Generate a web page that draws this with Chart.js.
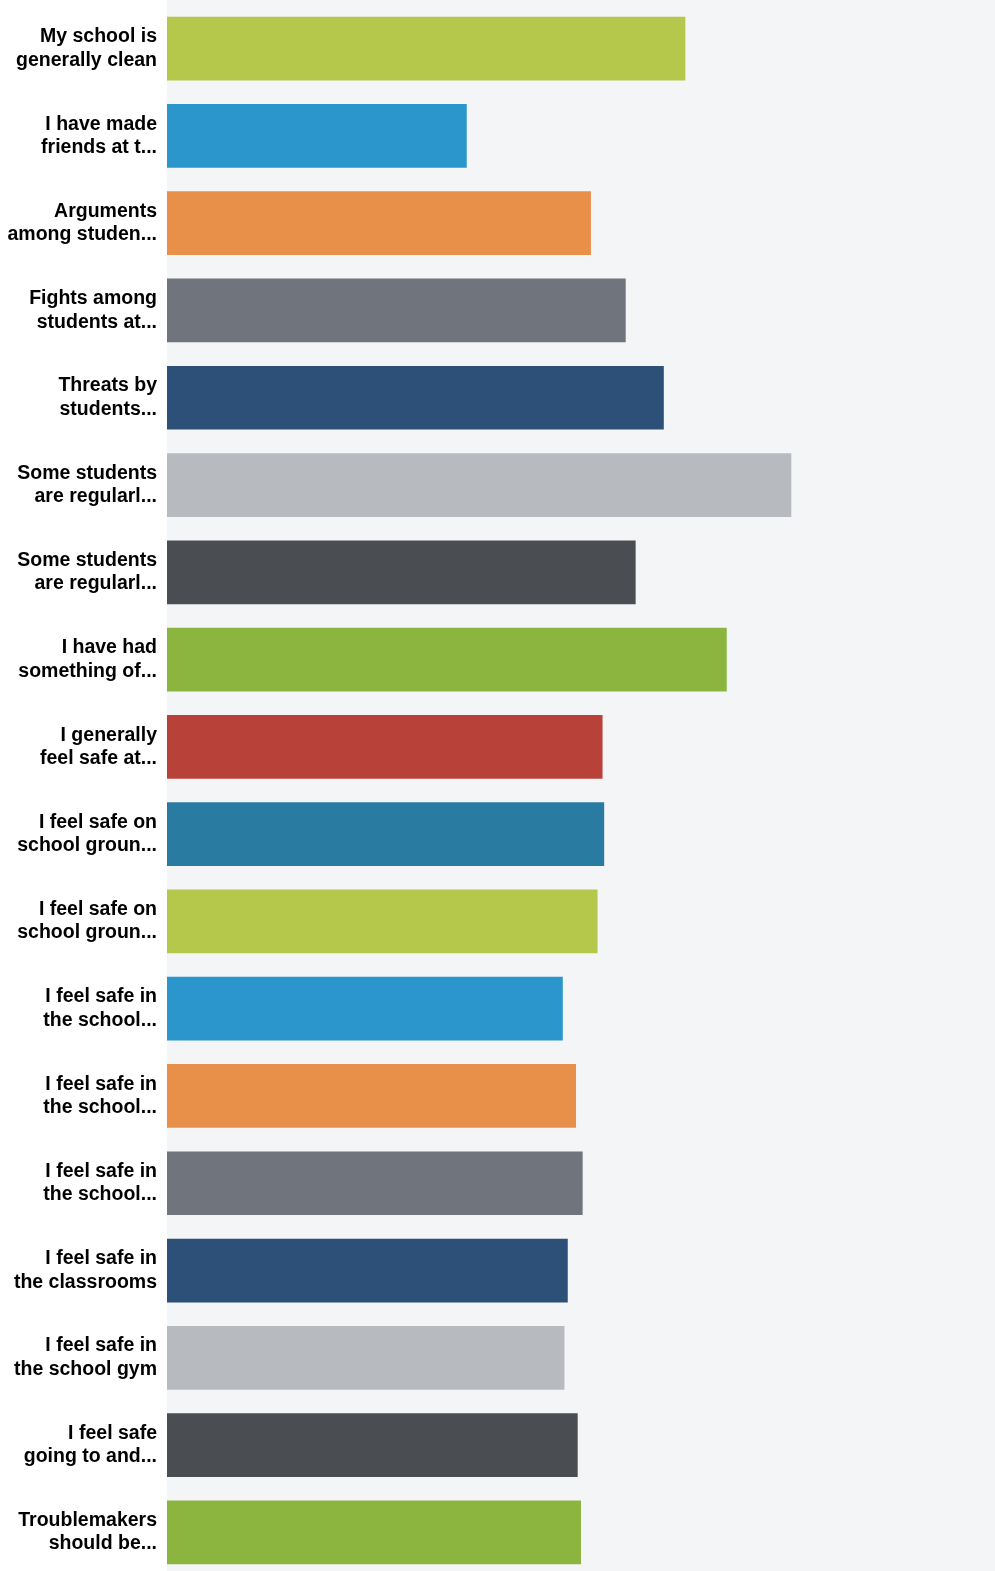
<!DOCTYPE html>
<html>
<head>
<meta charset="utf-8">
<title>School climate survey</title>
<script src="https://cdn.jsdelivr.net/npm/chart.js@4/dist/chart.umd.min.js"></script>
<style>
  html, body { margin: 0; padding: 0; background: #ffffff; overflow: hidden; }
  #wrap { position: relative; width: 995px; height: 1576px; }
</style>
</head>
<body>
<div id="wrap"><canvas id="surveyChart"></canvas></div>
<script>
// survey statements, shortened the way the report cuts them
var questions = [
  ['My school is', 'generally clean'],
  ['I have made', 'friends at t...'],
  ['Arguments', 'among studen...'],
  ['Fights among', 'students at...'],
  ['Threats by', 'students...'],
  ['Some students', 'are regularl...'],
  ['Some students', 'are regularl...'],
  ['I have had', 'something of...'],
  ['I generally', 'feel safe at...'],
  ['I feel safe on', 'school groun...'],
  ['I feel safe on', 'school groun...'],
  ['I feel safe in', 'the school...'],
  ['I feel safe in', 'the school...'],
  ['I feel safe in', 'the school...'],
  ['I feel safe in', 'the classrooms'],
  ['I feel safe in', 'the school gym'],
  ['I feel safe', 'going to and...'],
  ['Troublemakers', 'should be...']
];

// average rating per statement (0-5 scale)
var avgScores = [3.13, 1.81, 2.56, 2.77, 3.00, 3.77, 2.83, 3.38, 2.63,
                 2.64, 2.60, 2.39, 2.47, 2.51, 2.42, 2.40, 2.48, 2.50];

var palette = ['#b6c84c', '#2a96cb', '#e8904a', '#70757d', '#2c5078',
               '#b7bbbf', '#4a4e53', '#8bb53f', '#b8413a', '#2a7ba2'];

var barColors = avgScores.map(function(v, i) {
  return palette[i % palette.length];
});

// light grey panel behind the bars
var plotBg = {
  id: 'plotBg',
  beforeDraw: function(chart) {
    var c = chart.ctx, a = chart.chartArea;
    c.save();
    c.fillStyle = '#f4f5f6';
    c.fillRect(a.left, 0, chart.width - a.left, chart.height);
    c.restore();
  }
};

var ctx = document.getElementById('surveyChart').getContext('2d');
var chart = new Chart(ctx, {
  type: 'bar',
  data: {
    labels: questions,
    datasets: [{
      data: avgScores,
      backgroundColor: barColors,
      borderWidth: 0,
      barPercentage: 0.73,
      categoryPercentage: 1
    }]
  },
  options: {
    indexAxis: 'y',
    responsive: true,
    maintainAspectRatio: false,
    animation: false,
    layout: { padding: { top: 5, right: 0, bottom: 0, left: 0 } },
    plugins: {
      legend: { display: false },
      tooltip: { enabled: false }
    },
    scales: {
      x: { display: false, min: 0, max: 5 },
      y: {
        grid: { display: false, drawTicks: false },
        border: { display: false },
        afterFit: function(scale) {
          // fixed label column, no extra room above/below the bars
          scale.width = 167;
          scale.paddingTop = 0;
          scale.paddingBottom = 0;
        },
        ticks: {
          padding: 10,
          color: '#000000',
          font: { family: '"Liberation Sans", Arial, sans-serif', size: 19.5, weight: 'bold', lineHeight: 1.2 }
        }
      }
    }
  },
  plugins: [plotBg]
});
</script>
</body>
</html>
